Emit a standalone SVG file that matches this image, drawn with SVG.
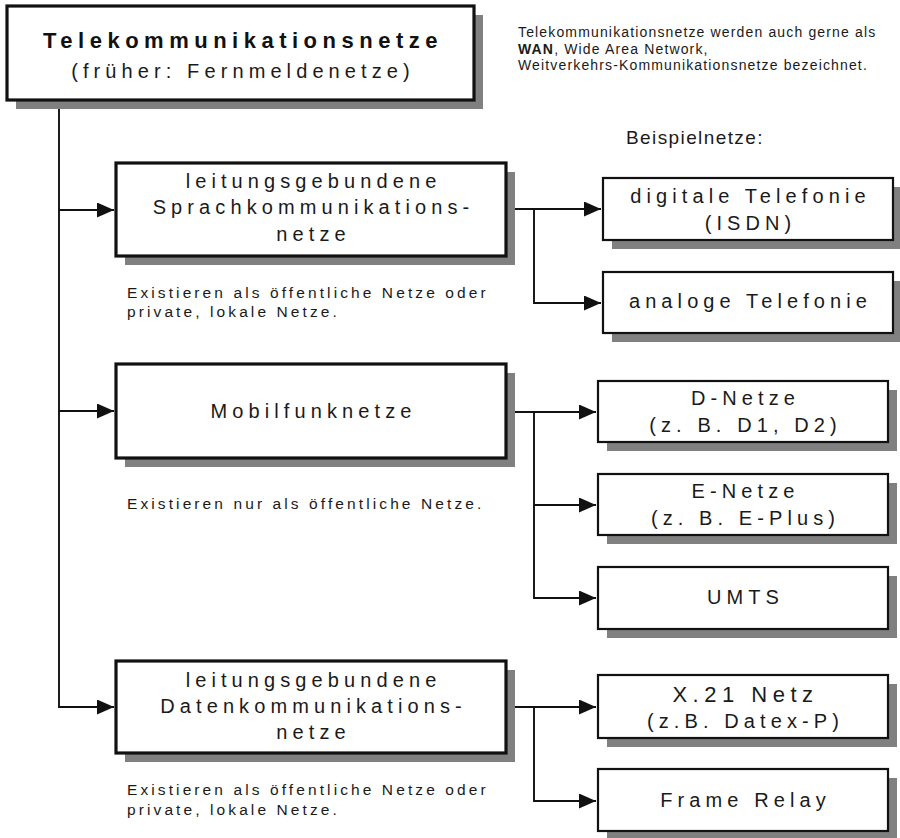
<svg xmlns="http://www.w3.org/2000/svg" width="900" height="838" viewBox="0 0 900 838">
<defs>
<marker id="arr" markerUnits="userSpaceOnUse" markerWidth="18" markerHeight="15" refX="17" refY="7.5" orient="auto">
<path d="M0,0 L17,7.5 L0,15 Z" fill="#111"/>
</marker>
</defs>
<style>
.shadow{fill:#808080;stroke:none}
.big{fill:#fff;stroke:#111;stroke-width:3.2}
.small{fill:#fff;stroke:#111;stroke-width:2.2}
.t{font-family:"Liberation Sans",Arial,sans-serif;font-size:20px;letter-spacing:5.1px;fill:#1a1a1a;text-anchor:middle}
.title{font-family:"Liberation Sans",Arial,sans-serif;font-size:22px;font-weight:bold;letter-spacing:5.5px;fill:#111;text-anchor:middle}
.note{font-family:"Liberation Sans",Arial,sans-serif;font-size:15.5px;letter-spacing:3.1px;fill:#1a1a1a}
.para{font-family:"Liberation Sans",Arial,sans-serif;font-size:14px;letter-spacing:1.15px;fill:#1a1a1a}
.conn{fill:none;stroke:#111;stroke-width:1.9}
</style>
<rect width="900" height="838" fill="#fff"/>

<g id="connectors">
<path class="conn" d="M59,100 V708"/>
<path class="conn" d="M59,210 H114" marker-end="url(#arr)"/>
<path class="conn" d="M59,411 H114" marker-end="url(#arr)"/>
<path class="conn" d="M59,707 H114" marker-end="url(#arr)"/>
<path class="conn" d="M506,209 H601" marker-end="url(#arr)"/>
<path class="conn" d="M534,209 V303 H601" marker-end="url(#arr)"/>
<path class="conn" d="M506,412 H596" marker-end="url(#arr)"/>
<path class="conn" d="M534,412 V505 H596" marker-end="url(#arr)"/>
<path class="conn" d="M534,505 V598 H596" marker-end="url(#arr)"/>
<path class="conn" d="M506,707 H596" marker-end="url(#arr)"/>
<path class="conn" d="M534,707 V801 H596" marker-end="url(#arr)"/>
</g>

<g id="root">
<rect class="shadow" x="16" y="15" width="467" height="94"/>
<rect class="big" x="7" y="6" width="467" height="94"/>
<text class="title" x="243" y="48">Telekommunikationsnetze</text>
<text class="t" x="243" y="78">(früher: Fernmeldenetze)</text>
</g>

<g id="info">
<text class="para" x="518" y="37">Telekommunikationsnetze werden auch gerne als</text>
<text class="para" x="518" y="53.5"><tspan font-weight="bold">WAN</tspan>, Wide Area Network,</text>
<text class="para" x="518" y="70">Weitverkehrs-Kommunikationsnetze bezeichnet.</text>
<text class="para" x="626" y="144" style="font-size:19px;letter-spacing:1.4px">Beispielnetze:</text>
</g>

<g id="sprach">
<rect class="shadow" x="125" y="172" width="390" height="93"/>
<rect class="big" x="116" y="163" width="390" height="93"/>
<text class="t" x="313.5" y="188">leitungsgebundene</text>
<text class="t" x="313.5" y="214">Sprachkommunikations-</text>
<text class="t" x="313.5" y="241">netze</text>
<text class="note" x="127" y="298">Existieren als öffentliche Netze oder</text>
<text class="note" x="127" y="317">private, lokale Netze.</text>
</g>

<g id="mobil">
<rect class="shadow" x="125" y="373" width="390" height="94"/>
<rect class="big" x="116" y="364" width="390" height="94"/>
<text class="t" x="313.5" y="418">Mobilfunknetze</text>
<text class="note" x="127" y="509">Existieren nur als öffentliche Netze.</text>
</g>

<g id="daten">
<rect class="shadow" x="125" y="670" width="390" height="92"/>
<rect class="big" x="116" y="661" width="390" height="92"/>
<text class="t" x="313.5" y="687">leitungsgebundene</text>
<text class="t" x="313.5" y="713">Datenkommunikations-</text>
<text class="t" x="313.5" y="739">netze</text>
<text class="note" x="127" y="795">Existieren als öffentliche Netze oder</text>
<text class="note" x="127" y="815">private, lokale Netze.</text>
</g>

<g id="isdn">
<rect class="shadow" x="612" y="187" width="290" height="62"/>
<rect class="small" x="603" y="178" width="290" height="62"/>
<text class="t" x="750.5" y="203">digitale Telefonie</text>
<text class="t" x="750.5" y="230">(ISDN)</text>
</g>

<g id="analog">
<rect class="shadow" x="612" y="281" width="290" height="61"/>
<rect class="small" x="603" y="272" width="290" height="61"/>
<text class="t" x="750.5" y="308">analoge Telefonie</text>
</g>

<g id="dnetz">
<rect class="shadow" x="607" y="390" width="290" height="61"/>
<rect class="small" x="598" y="381" width="290" height="61"/>
<text class="t" x="745.5" y="405">D-Netze</text>
<text class="t" x="745.5" y="432">(z. B. D1, D2)</text>
</g>

<g id="enetz">
<rect class="shadow" x="607" y="483" width="290" height="61"/>
<rect class="small" x="598" y="474" width="290" height="61"/>
<text class="t" x="745.5" y="498">E-Netze</text>
<text class="t" x="745.5" y="525">(z. B. E-Plus)</text>
</g>

<g id="umts">
<rect class="shadow" x="607" y="576" width="290" height="62"/>
<rect class="small" x="598" y="567" width="290" height="62"/>
<text class="t" x="745.5" y="604">UMTS</text>
</g>

<g id="x21">
<rect class="shadow" x="607" y="684" width="290" height="63"/>
<rect class="small" x="598" y="675" width="290" height="63"/>
<text class="t" x="745.5" y="702" style="font-size:22px;letter-spacing:5.5px">X.21 Netz</text>
<text class="t" x="745.5" y="728">(z.B. Datex-P)</text>
</g>

<g id="frame">
<rect class="shadow" x="607" y="778" width="290" height="62"/>
<rect class="small" x="598" y="769" width="290" height="62"/>
<text class="t" x="745.5" y="807">Frame Relay</text>
</g>
</svg>
